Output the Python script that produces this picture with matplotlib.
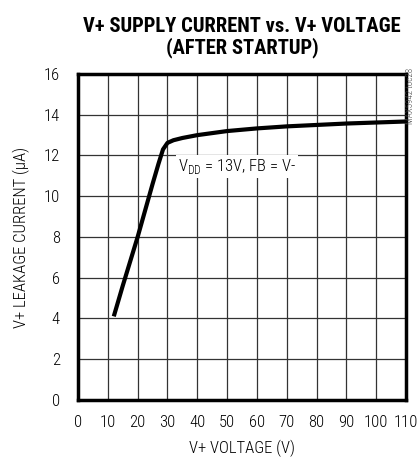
import matplotlib.pyplot as plt

# curve
voltage = [12, 15, 20, 25, 27, 28.5, 30, 32, 35, 40, 50, 60, 70, 80, 90, 100, 110]
current = [4.1, 5.6, 8.0, 10.6, 11.6, 12.3, 12.62, 12.75, 12.86, 13.0, 13.2, 13.33, 13.43, 13.5, 13.57, 13.62, 13.67]

x_ticks = list(range(0, 111, 10))
y_ticks = list(range(0, 17, 2))

plt.rcParams['font.family'] = ['Roboto Condensed', 'DejaVu Sans']
plt.rcParams['mathtext.fontset'] = 'custom'
plt.rcParams['mathtext.rm'] = 'Roboto Condensed:light'

fig = plt.figure(figsize=(4.17, 4.57), dpi=100)
ax = fig.add_axes([0.187, 0.125, 0.787, 0.713])

ax.plot(voltage, current, color='black', lw=3, solid_capstyle='butt', zorder=3)

ax.set_xlim(0, 110)
ax.set_ylim(0, 16)
ax.set_xticks(x_ticks)
ax.set_yticks(y_ticks)
ax.grid(True, color='#333333', lw=0.9)
ax.tick_params(axis='x', length=0, labelsize=12, pad=11)
ax.tick_params(axis='y', length=0, labelsize=12, pad=13)
for lbl in ax.get_xticklabels() + ax.get_yticklabels():
    lbl.set_fontweight('light')
for s in ax.spines.values():
    s.set_linewidth(2.5)

ax.set_xlabel('V+ VOLTAGE (V)', fontsize=12, labelpad=7, fontweight='light')
ax.set_ylabel('V+ LEAKAGE CURRENT (µA)', fontsize=12, labelpad=10, fontweight='light')

ax.text(33.5, 11.45, r'V$_{\mathregular{DD}}$ = 13V, FB = V-', fontsize=12, va='center', ha='left',
        fontweight='light', bbox=dict(facecolor='white', edgecolor='none', pad=1.5), zorder=4)

fig.text(0.58, 0.962, 'V+ SUPPLY CURRENT vs. V+ VOLTAGE\n(AFTER STARTUP)', ha='center', va='top',
         fontsize=14.8, fontweight='bold', linespacing=1.05)
fig.text(0.984, 0.851, 'MAX5942 toc28', rotation=90, ha='center', va='top', fontsize=6.5,
         color='#444444', fontweight='light')

fig.savefig('out.png', dpi=100)
